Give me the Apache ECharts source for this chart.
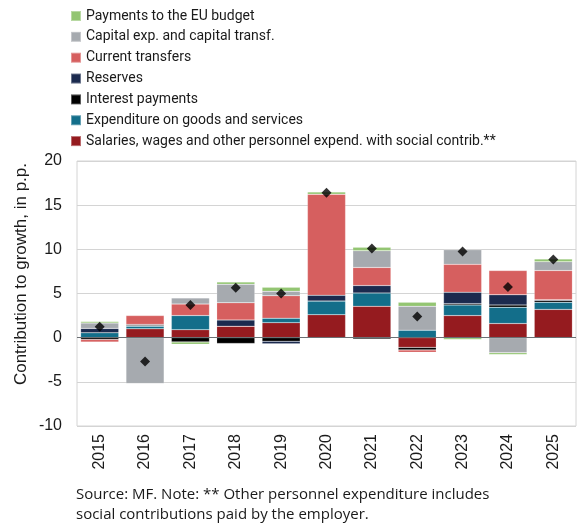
<!DOCTYPE html>
<html>
<head>
<meta charset="utf-8">
<script src="https://cdn.jsdelivr.net/npm/echarts@6/dist/echarts.min.js"></script>
<style>
  html, body { margin: 0; padding: 0; background: #ffffff; }
  #chart { width: 579px; height: 523px; }
</style>
</head>
<body>
<div id="chart"></div>
<script>
// Contributions to expenditure growth by component, percentage points
const years = ['2015', '2016', '2017', '2018', '2019', '2020', '2021', '2022', '2023', '2024', '2025'];

const salaries      = [0.0, 1.0, 0.9, 1.3, 1.7, 2.6, 3.55, -1.1, 2.5, 1.6, 3.2];
const goodsServices = [0.55, 0.3, 1.6, 0.0, 0.5, 1.55, 1.5, 0.85, 1.2, 1.85, 0.8];
const interest      = [-0.2, 0.1, -0.5, -0.65, -0.4, 0.0, -0.15, -0.3, 0.15, 0.25, 0.2];
const reserves      = [0.5, 0.1, 0.0, 0.7, -0.3, 0.65, 0.85, 0.0, 1.3, 1.15, 0.1];
const currentTransf = [-0.3, 1.0, 1.3, 1.95, 2.55, 11.45, 2.05, -0.25, 3.15, 2.75, 3.3];
const capitalExp    = [0.6, -5.2, 0.7, 2.1, 0.5, 0.0, 1.9, 2.7, 1.65, -1.7, 1.0];
const euBudget      = [0.18, 0.0, -0.25, 0.25, 0.45, 0.25, 0.4, 0.45, -0.2, -0.2, 0.3];
const total         = [1.25, -2.7, 3.7, 5.65, 5.0, 16.4, 10.1, 2.4, 9.75, 5.75, 8.85];

const yTicks = { min: -10, max: 20, step: 5 };

const components = [
  { name: 'Salaries, wages and other personnel expend. with social contrib.**', data: salaries, color: '#951b1f' },
  { name: 'Expenditure on goods and services', data: goodsServices, color: '#136e8a' },
  { name: 'Interest payments', data: interest, color: '#000000' },
  { name: 'Reserves', data: reserves, color: '#1b2a4e' },
  { name: 'Current transfers', data: currentTransf, color: '#d65f5f' },
  { name: 'Capital exp. and capital transf.', data: capitalExp, color: '#a6aaaf' },
  { name: 'Payments to the EU budget', data: euBudget, color: '#93c572' }
];

const chart = echarts.init(document.getElementById('chart'), null, { renderer: 'canvas' });

const barSeries = components.map((c, i) => ({
  name: c.name,
  type: 'bar',
  stack: 'growth',
  data: c.data,
  barCategoryGap: '16%',
  itemStyle: { color: c.color, borderColor: 'rgba(255,255,255,0.35)', borderWidth: 0.5 },
  emphasis: { disabled: true },
  markLine: i === 0 ? {
    silent: true,
    symbol: 'none',
    label: { show: false },
    lineStyle: { color: '#6b6f73', width: 1.2, type: 'solid' },
    data: [{ yAxis: 0 }],
    z: 10
  } : undefined
}));

chart.setOption({
  animation: false,
  textStyle: { fontFamily: 'Liberation Sans, Arial, sans-serif' },
  grid: {
    left: 77, right: 3, top: 161, bottom: 97,
    show: true, borderColor: '#d4d4d4', borderWidth: 1
  },
  legend: {
    orient: 'vertical',
    left: 70,
    top: 8,
    padding: 0,
    icon: 'rect',
    itemWidth: 10,
    itemHeight: 10,
    itemGap: 4.85,
    selectedMode: false,
    textStyle: { fontFamily: 'Roboto, sans-serif', fontSize: 14, lineHeight: 16, color: '#1a1a1a' },
    data: components.slice().reverse().map(c => c.name)
  },
  xAxis: {
    type: 'category',
    data: years,
    axisLine: { show: false },
    axisTick: { show: false },
    axisLabel: { rotate: 90, fontSize: 16, color: '#1a1a1a', margin: 8 }
  },
  yAxis: {
    type: 'value',
    min: yTicks.min,
    max: yTicks.max,
    interval: yTicks.step,
    axisLine: { show: false },
    axisTick: { show: false },
    axisLabel: { fontSize: 16, color: '#1a1a1a', margin: 15 },
    splitLine: { lineStyle: { color: '#d4d4d4', width: 1 } }
  },
  series: barSeries.concat([{
    name: 'Total',
    type: 'scatter',
    data: total,
    symbol: 'diamond',
    symbolSize: 10,
    itemStyle: { color: '#000000' },
    z: 20
  }]),
  graphic: [
    {
      type: 'text',
      left: 13, top: 163,
      rotation: Math.PI / 2,
      style: { text: 'Contribution to growth, in p.p.', fontSize: 17, fill: '#1a1a1a', fontFamily: 'Liberation Sans, Arial, sans-serif' }
    },
    {
      type: 'text',
      left: 76, top: 485,
      style: {
        text: 'Source: MF. Note: ** Other personnel expenditure includes\nsocial contributions paid by the employer.',
        fontSize: 15, lineHeight: 20, fill: '#1a1a1a', fontFamily: 'Open Sans, sans-serif'
      }
    }
  ]
});
</script>
</body>
</html>
